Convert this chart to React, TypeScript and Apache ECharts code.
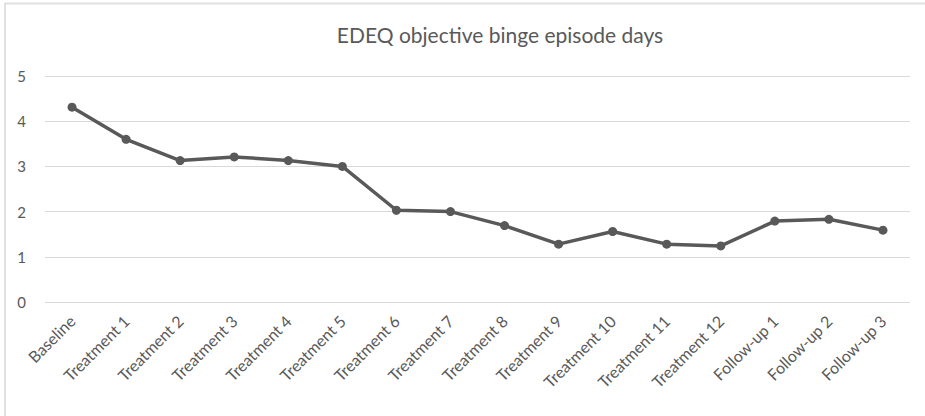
import React, { useEffect, useRef } from "react";
import * as echarts from "echarts";

const categories = [
  "Baseline", "Treatment 1", "Treatment 2", "Treatment 3", "Treatment 4", "Treatment 5",
  "Treatment 6", "Treatment 7", "Treatment 8", "Treatment 9", "Treatment 10", "Treatment 11",
  "Treatment 12", "Follow-up 1", "Follow-up 2", "Follow-up 3",
];
const values = [4.31, 3.6, 3.13, 3.21, 3.13, 3.0, 2.03, 2.0, 1.69, 1.28, 1.56, 1.28, 1.24, 1.79, 1.83, 1.59];
const titleText = "EDEQ objective binge episode days";

export default function App() {
  const ref = useRef<HTMLDivElement>(null);
  useEffect(() => {
    document.body.style.margin = "0";
    const chart = echarts.init(ref.current!, null, { renderer: "svg" });
    chart.setOption({
      animation: false,
      backgroundColor: "#ffffff",
      graphic: [
        { type: "line", shape: { x1: 5, y1: 3.5, x2: 925, y2: 3.5 }, style: { stroke: "#e0e0e0", lineWidth: 2 } },
        { type: "line", shape: { x1: 5, y1: 3, x2: 5, y2: 416 }, style: { stroke: "#e0e0e0", lineWidth: 2 } },
      ],
      title: {
        text: titleText,
        left: 495,
        top: 19,
        textAlign: "center",
        textStyle: { fontFamily: "Lato", fontWeight: "normal", fontSize: 21, color: "#595959" },
      },
      grid: { left: 45, right: 15, top: 76, bottom: 114, containLabel: false },
      xAxis: {
        type: "category",
        data: categories,
        boundaryGap: true,
        axisLine: { show: false },
        axisTick: { show: false },
        axisLabel: {
          rotate: 45,
          interval: 0,
          margin: 16,
          color: "#595959",
          fontFamily: "Lato",
          fontSize: 16,
        },
      },
      yAxis: {
        type: "value",
        min: 0,
        max: 5,
        interval: 1,
        axisLine: { show: false },
        axisTick: { show: false },
        splitLine: { lineStyle: { color: "#d9d9d9", width: 1 } },
        axisLabel: { color: "#595959", fontFamily: "Lato", fontSize: 15, margin: 19 },
      },
      series: [
        {
          type: "line",
          data: values,
          symbol: "circle",
          symbolSize: 9,
          lineStyle: { color: "#595959", width: 3.5 },
          itemStyle: { color: "#595959" },
        },
      ],
    });
    return () => chart.dispose();
  }, []);
  return (
    <div
      ref={ref}
      style={{ position: "absolute", left: 0, top: 0, width: 925, height: 416 }}
    />
  );
}
